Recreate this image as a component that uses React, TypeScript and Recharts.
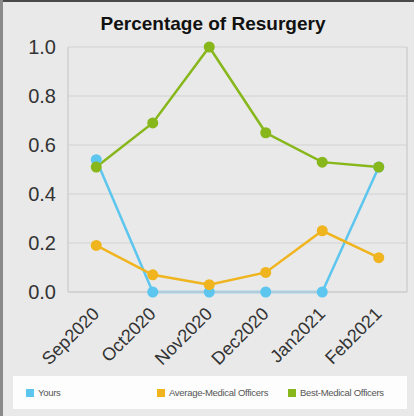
import React from 'react';
import { LineChart, Line, XAxis, YAxis, CartesianGrid } from 'recharts';

const categories = ['Sep2020', 'Oct2020', 'Nov2020', 'Dec2020', 'Jan2021', 'Feb2021'];
const yours = [0.54, 0, 0, 0, 0, 0.51];
const averageMO = [0.19, 0.07, 0.03, 0.08, 0.25, 0.14];
const bestMO = [0.51, 0.69, 1.0, 0.65, 0.53, 0.51];
const yTicks = [0, 0.2, 0.4, 0.6, 0.8, 1.0];
const boundaryTicks = [0, 1, 2, 3, 4, 5, 6];

const series = [
  { key: 'yours', name: 'Yours', color: '#5cc6ef', values: yours },
  { key: 'avg', name: 'Average-Medical Officers', color: '#f0b51e', values: averageMO },
  { key: 'best', name: 'Best-Medical Officers', color: '#87b71a', values: bestMO },
];

const data = categories.map((c, i) => {
  const row: any = { cat: c };
  series.forEach((s) => (row[s.key] = s.values[i]));
  return row;
});

const FONT = '"Liberation Sans", Arial, sans-serif';

const XTick = (props: any) => {
  const { x, y, payload } = props;
  const px = x + 4;
  const py = y + 15;
  return (
    <text
      x={px}
      y={py}
      textAnchor="end"
      transform={`rotate(-45, ${px}, ${py})`}
      fontSize={18}
      fill="#333"
      fontFamily={FONT}
    >
      {payload.value}
    </text>
  );
};

export default function App() {
  return (
    <div style={{ position: 'absolute', left: 0, top: 0, width: 414, height: 416, background: '#e9e9e9', fontFamily: FONT }}>
      <div style={{ position: 'absolute', left: 0, top: 0, width: 414, height: 2, background: '#4a4a4a' }} />
      <div style={{ position: 'absolute', left: 0, top: 0, width: 3, height: 416, background: '#8a8a8a' }} />
      <div style={{ position: 'absolute', left: 0, top: 13, width: 414, textAlign: 'center', fontSize: 19, fontWeight: 'bold', color: '#111', paddingLeft: 6 }}>
        Percentage of Resurgery
      </div>
      <div style={{ position: 'absolute', left: 0, top: 0 }}>
        <LineChart width={414} height={416} data={data} margin={{ top: 47, right: 0, bottom: 64, left: 0 }}>
          <CartesianGrid vertical={false} stroke="#d9d9d9" strokeWidth={1.5} />
          <XAxis
            xAxisId="bounds"
            type="number"
            domain={[0, 6]}
            ticks={boundaryTicks}
            height={0}
            axisLine={false}
            tickLine={{ stroke: '#c4c4c4', strokeWidth: 1.5 }}
            tickSize={5}
            tickFormatter={() => ''}
          />
          <XAxis
            dataKey="cat"
            scale="band"
            height={60}
            interval={0}
            axisLine={{ stroke: '#cfcfcf', strokeWidth: 1.5 }}
            tickLine={false}
            tick={<XTick />}
          />
          <YAxis
            domain={[0, 1]}
            ticks={yTicks}
            width={68}
            tickFormatter={(v: number) => v.toFixed(1)}
            tick={{ fontSize: 20, fill: '#333', fontFamily: FONT }}
            tickLine={false}
            axisLine={{ stroke: '#cfcfcf', strokeWidth: 1.5 }}
            tickMargin={6}
          />
          <YAxis
            yAxisId="right"
            orientation="right"
            width={7}
            tick={false}
            tickLine={false}
            axisLine={{ stroke: '#cfcfcf', strokeWidth: 1.5 }}
          />
          {series.map((s) => (
            <Line
              key={s.key}
              dataKey={s.key}
              name={s.name}
              stroke={s.color}
              strokeWidth={2.5}
              dot={{ r: 5.5, fill: s.color, stroke: s.color, strokeWidth: 0 }}
              isAnimationActive={false}
            />
          ))}
        </LineChart>
      </div>
      <div style={{ position: 'absolute', left: 13, top: 376, width: 394, height: 33, background: '#fdfdfd' }}>
        {series.map((s, i) => (
          <div
            key={s.key}
            style={{ position: 'absolute', left: [13, 144, 275][i], top: 11, display: 'flex', alignItems: 'center', fontSize: 9.5, color: '#555', letterSpacing: -0.3 }}
          >
            <span style={{ display: 'inline-block', width: 8, height: 8, background: s.color, marginRight: 4 }} />
            {s.name}
          </div>
        ))}
      </div>
    </div>
  );
}
